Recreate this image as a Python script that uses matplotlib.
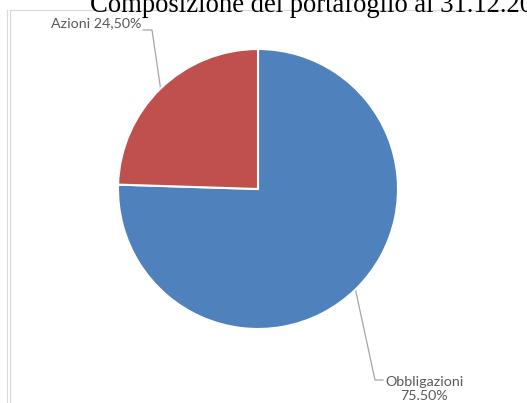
import numpy as np
import matplotlib.pyplot as plt

# dati
categories = ['Obbligazioni', 'Azioni']
shares = [75.50, 24.50]
labels = ['Obbligazioni\n75.50%', 'Azioni 24,50%']
colors = ['#4F81BD', '#C0504D']

W, H = 527, 403
fig = plt.figure(figsize=(W / 100, H / 100), dpi=100)

# canvas in pixel coordinates (y down)
bg = fig.add_axes([0, 0, 1, 1])
bg.set_xlim(0, W)
bg.set_ylim(H, 0)
bg.axis('off')

# pie: center and radius in pixels
cx, cy, r = 258, 189, 140
ax = fig.add_axes([(cx - r) / W, 1 - (cy + r) / H, 2 * r / W, 2 * r / H])
wedges, _ = ax.pie(shares, colors=colors, startangle=90, counterclock=False,
                   wedgeprops=dict(edgecolor='white', linewidth=1.5, clip_on=False))
ax.set_xlim(-1, 1)
ax.set_ylim(-1, 1)
ax.set_aspect('equal')

# frame lines
fc = '#D9D9D9'
bg.plot([6.5, 6.5], [10, H], color=fc, lw=0.8)
bg.plot([9.5, 9.5, W], [H, 9.5, 9.5], color=fc, lw=0.8)

# title (cut at top/right as in the original)
bg.text(90, 12, 'Composizione del portafoglio al 31.12.20', family='Liberation Serif',
        fontsize=19.2, color='black', ha='left', va='baseline', clip_on=False)

# leader lines + labels
lc = '#A6A6A6'
tc = '#595959'


def anchor(w):
    a = np.deg2rad((w.theta1 + w.theta2) / 2)
    return cx + r * np.cos(a), cy - r * np.sin(a)


# Azioni
x0, y0 = anchor(wedges[1])
bg.plot([x0, 152, 143], [y0, 30, 30], color=lc, lw=0.9)
bg.text(141, 23, labels[1], family='Lato', fontsize=10.3, color=tc, ha='right', va='center')

# Obbligazioni
x0, y0 = anchor(wedges[0])
bg.plot([x0, 375, 383], [y0, 380, 380], color=lc, lw=0.9)
bg.text(424, 389, labels[0], family='Lato', fontsize=10.3, color=tc, ha='center', va='center',
        multialignment='center', linespacing=1.3)

fig.savefig('out.png', dpi=100)
